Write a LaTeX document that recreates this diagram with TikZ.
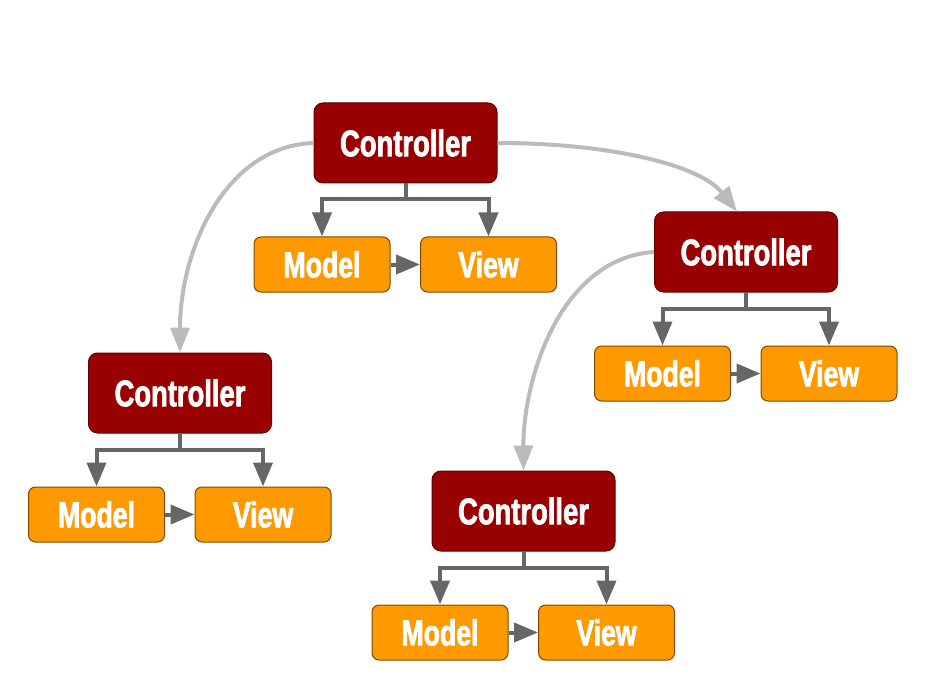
\documentclass[tikz,border=0pt]{standalone}
\usepackage{fontspec}
\setmainfont{Liberation Sans}[FakeStretch=0.74,FakeBold=2]
\usetikzlibrary{arrows.meta}
\definecolor{ctrlred}{HTML}{990000}
\definecolor{ctrlborder}{HTML}{5E0000}
\definecolor{mvorange}{HTML}{FF9900}
\definecolor{mvborder}{HTML}{7F4A00}
\definecolor{darkline}{HTML}{666666}
\definecolor{lightline}{HTML}{BBBBBB}
\tikzset{
  ctrlbox/.style={draw=ctrlborder, line width=1pt, fill=ctrlred, rounded corners=9pt,
    minimum width=183pt, minimum height=80pt, inner sep=0pt, text=white,
    font=\fontsize{37}{37}\selectfont\bfseries},
  mvbox/.style={draw=mvborder, line width=1pt, fill=mvorange, rounded corners=7pt,
    minimum width=136pt, minimum height=55pt, inner sep=0pt, text=white,
    font=\fontsize{36}{36}\selectfont\bfseries},
  darkarrow/.style={draw=darkline, line width=4pt, -{Triangle[length=24pt,width=19pt]}},
  lightarrow/.style={draw=lightline, line width=4pt, -{Triangle[length=25pt,width=19pt]}},
}
\begin{document}
\begin{tikzpicture}[x=1pt,y=-1pt]
\useasboundingbox (0,0) rectangle (929,695);
\foreach \n/\cx/\cy in {1/405.5/143, 2/746/252, 3/180/393, 4/523.5/511}{
  \node[ctrlbox] (c\n) at (\cx,\cy) {Controller};
  \node[mvbox] (m\n) at (\cx-83.5,\cy+121.5) {Model};
  \node[mvbox] (v\n) at (\cx+83,\cy+121.5) {View};
  \draw[darkarrow] (c\n.south) -- ++(0,16) -| (m\n.north);
  \draw[darkarrow] (c\n.south) -- ++(0,16) -| (v\n.north);
  \draw[darkarrow] (m\n.east) -- (v\n.west);
}
\draw[lightarrow] (c1.west) .. controls (225,146) and (180,250) .. (c3.north);
\draw[lightarrow] (c1.east) .. controls (610,143) and (700,165) .. ([xshift=-9pt]c2.north);
\draw[lightarrow] (c2.west) .. controls (560,258) and (523,380) .. (c4.north);
\end{tikzpicture}
\end{document}
